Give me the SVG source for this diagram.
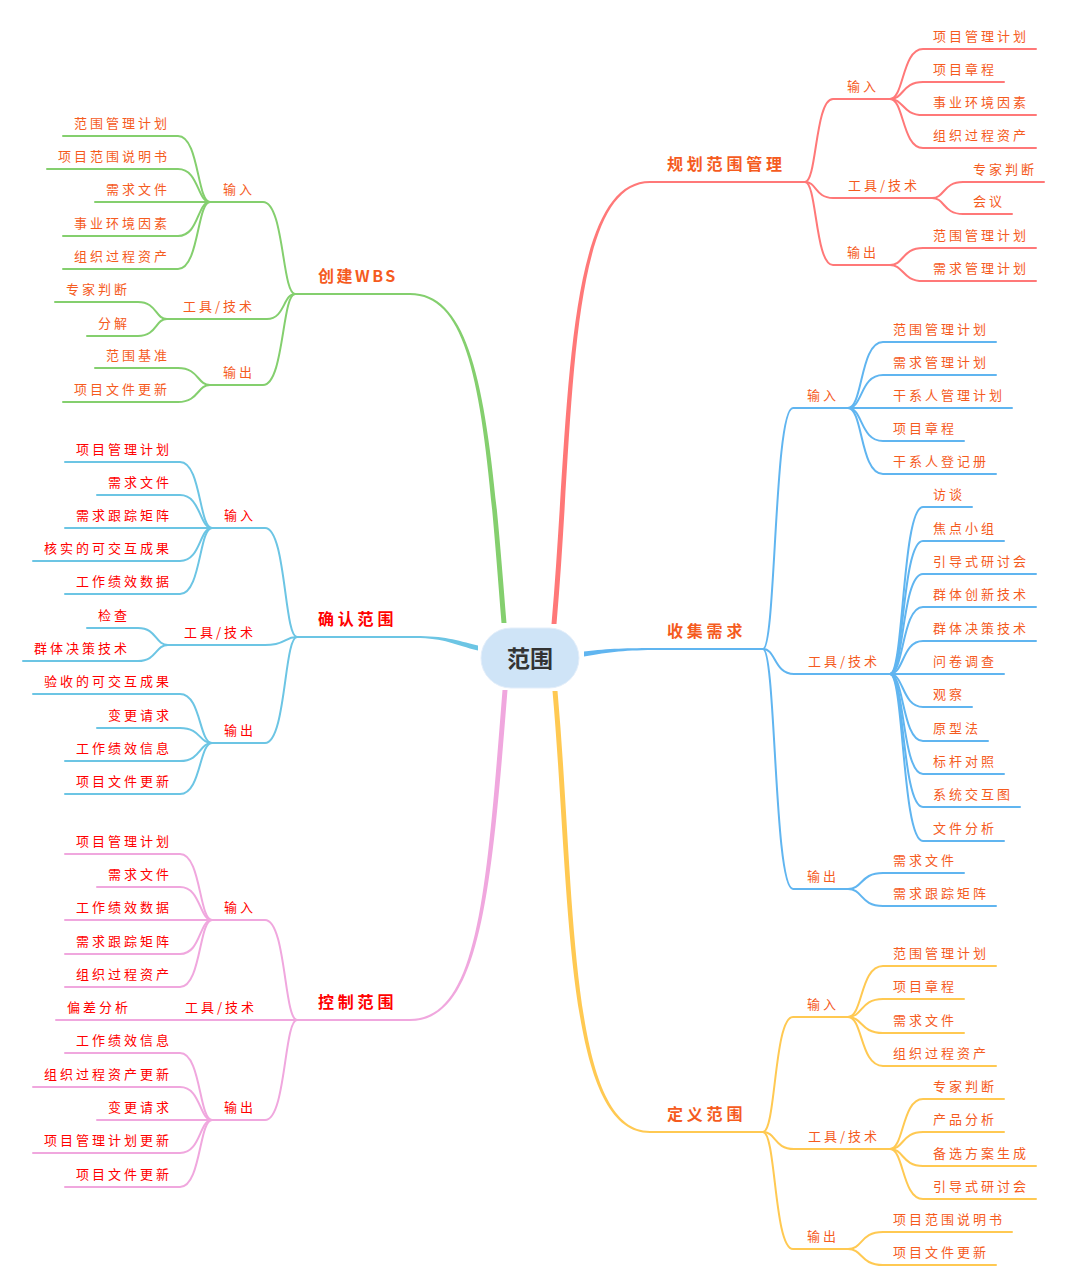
<svg xmlns="http://www.w3.org/2000/svg" width="1066" height="1288" viewBox="0 0 1066 1288">
<style>
.bg{fill:#ffffff}
.ln{fill:none;stroke-width:2;stroke-linecap:round}
.red{stroke:#FF7878}.grn{stroke:#84CF6E}.blu{stroke:#60B5F0}.cyn{stroke:#6CC5E4}.pnk{stroke:#F0A7DE}.yel{stroke:#FFC952}
.fred{fill:#FF7878}.fgrn{fill:#84CF6E}.fblu{fill:#60B5F0}.fcyn{fill:#6CC5E4}.fpnk{fill:#F0A7DE}.fyel{fill:#FFC952}
text{font-family:"Noto Sans CJK SC","Noto Sans",sans-serif}
.t{font-size:13px;letter-spacing:3px}
.m{font-size:16px;font-weight:bold;letter-spacing:3.8px}
.o{fill:#F55B1E}
.r{fill:#FF0000}
.center-t{font-size:23px;font-weight:bold;fill:#333333}
</style>
<rect class="bg" x="0" y="0" width="1066" height="1288"/>
<g id="connectors">
  <g id="c-plan">
    <path class="fred" d="M551.5 624 C569.5 420 563 181 650 181 L650 183 C566.5 183 574.5 420 556.5 624 Z"/>
    <path class="ln red" d="M650 182 L805 182"/>
    <path class="ln red" d="M805 182 C817 182 815 99 833 99 L890 99"/>
    <path class="ln red" d="M805 182 C817 182 815 198 833 198 L932 198"/>
    <path class="ln red" d="M805 182 C817 182 815 265 833 265 L890 265"/>
    <path class="ln red" d="M890 99 C904 99 902 49 923 49 L1036 49"/>
    <path class="ln red" d="M890 99 C904 99 902 82 923 82 L1004 82"/>
    <path class="ln red" d="M890 99 C904 99 902 115 923 115 L1036 115"/>
    <path class="ln red" d="M890 99 C904 99 902 148 923 148 L1036 148"/>
    <path class="ln red" d="M932 198 C945 198 943 182 963 182 L1044 182"/>
    <path class="ln red" d="M932 198 C945 198 943 214 963 214 L1012 214"/>
    <path class="ln red" d="M890 265 C904 265 902 248 923 248 L1036 248"/>
    <path class="ln red" d="M890 265 C904 265 902 281 923 281 L1036 281"/>
  </g>
  <g id="c-collect">
    <path class="fblu" d="M584 651.5 C610 648.5 625 648 660 648 L660 650 C625 650 610 652 584 656.5 Z"/>
    <path class="ln blu" d="M660 649 L763 649"/>
    <path class="ln blu" d="M763 649 C776 649 774 408 793 408 L848 408"/>
    <path class="ln blu" d="M763 649 C776 649 774 674 794 674 L890 674"/>
    <path class="ln blu" d="M763 649 C776 649 774 889 793 889 L848 889"/>
    <path class="ln blu" d="M848 408 C863 408 860 342 883 342 L996 342"/>
    <path class="ln blu" d="M848 408 C863 408 860 375 883 375 L996 375"/>
    <path class="ln blu" d="M848 408 L1012 408"/>
    <path class="ln blu" d="M848 408 C863 408 860 441 883 441 L964 441"/>
    <path class="ln blu" d="M848 408 C863 408 860 474 883 474 L996 474"/>
    <path class="ln blu" d="M890 674 C904 674 902 507 923 507 L972 507"/>
    <path class="ln blu" d="M890 674 C904 674 902 541 923 541 L1004 541"/>
    <path class="ln blu" d="M890 674 C904 674 902 574 923 574 L1036 574"/>
    <path class="ln blu" d="M890 674 C904 674 902 607 923 607 L1036 607"/>
    <path class="ln blu" d="M890 674 C904 674 902 641 923 641 L1036 641"/>
    <path class="ln blu" d="M890 674 L1004 674"/>
    <path class="ln blu" d="M890 674 C904 674 902 707 923 707 L972 707"/>
    <path class="ln blu" d="M890 674 C904 674 902 741 923 741 L988 741"/>
    <path class="ln blu" d="M890 674 C904 674 902 774 923 774 L1004 774"/>
    <path class="ln blu" d="M890 674 C904 674 902 807 923 807 L1020 807"/>
    <path class="ln blu" d="M890 674 C904 674 902 841 923 841 L1004 841"/>
    <path class="ln blu" d="M848 889 C863 889 860 873 883 873 L964 873"/>
    <path class="ln blu" d="M848 889 C863 889 860 906 883 906 L996 906"/>
  </g>
  <g id="c-define">
    <path class="fyel" d="M552.5 691 C570.5 895 564 1133 650 1133 L650 1131 C568 1131 575.5 895 557.5 691 Z"/>
    <path class="ln yel" d="M650 1132 L763 1132"/>
    <path class="ln yel" d="M763 1132 C776 1132 774 1017 793 1017 L848 1017"/>
    <path class="ln yel" d="M763 1132 C776 1132 774 1149 794 1149 L890 1149"/>
    <path class="ln yel" d="M763 1132 C776 1132 774 1249 793 1249 L848 1249"/>
    <path class="ln yel" d="M848 1017 C863 1017 860 966 883 966 L996 966"/>
    <path class="ln yel" d="M848 1017 C863 1017 860 999 883 999 L964 999"/>
    <path class="ln yel" d="M848 1017 C863 1017 860 1033 883 1033 L964 1033"/>
    <path class="ln yel" d="M848 1017 C863 1017 860 1066 883 1066 L996 1066"/>
    <path class="ln yel" d="M890 1149 C904 1149 902 1099 923 1099 L1004 1099"/>
    <path class="ln yel" d="M890 1149 C904 1149 902 1132 923 1132 L1004 1132"/>
    <path class="ln yel" d="M890 1149 C904 1149 902 1166 923 1166 L1036 1166"/>
    <path class="ln yel" d="M890 1149 C904 1149 902 1199 923 1199 L1036 1199"/>
    <path class="ln yel" d="M848 1249 C863 1249 860 1232 883 1232 L1012 1232"/>
    <path class="ln yel" d="M848 1249 C863 1249 860 1265 883 1265 L996 1265"/>
  </g>
  <g id="c-wbs">
    <path class="fgrn" d="M506.5 623 C490.5 420 479 293 410 293 L410 295 C477 295 485.5 420 501.5 623 Z"/>
    <path class="ln grn" d="M410 294 L295 294"/>
    <path class="ln grn" d="M295 294 C282 294 284 202 263 202 L210 202"/>
    <path class="ln grn" d="M295 294 C283 294 285 319 267 319 L167 319"/>
    <path class="ln grn" d="M295 294 C282 294 284 385 263 385 L210 385"/>
    <path class="ln grn" d="M210 202 C197 202 199 136 178 136 L63 136"/>
    <path class="ln grn" d="M210 202 C197 202 199 169 178 169 L47 169"/>
    <path class="ln grn" d="M210 202 L95 202"/>
    <path class="ln grn" d="M210 202 C197 202 199 236 178 236 L63 236"/>
    <path class="ln grn" d="M210 202 C197 202 199 269 178 269 L63 269"/>
    <path class="ln grn" d="M167 319 C155 319 157 302 138 302 L55 302"/>
    <path class="ln grn" d="M167 319 C155 319 157 336 138 336 L87 336"/>
    <path class="ln grn" d="M210 385 C197 385 199 368 178 368 L95 368"/>
    <path class="ln grn" d="M210 385 C197 385 199 402 178 402 L63 402"/>
  </g>
  <g id="c-verify">
    <path class="fcyn" d="M478 645.5 C455 640 445 636 415 636 L415 638 C445 638 455 645 478 650.5 Z"/>
    <path class="ln cyn" d="M415 637 L297 637"/>
    <path class="ln cyn" d="M297 637 C284 637 286 528 265 528 L212 528"/>
    <path class="ln cyn" d="M297 637 C284 637 286 645 265 645 L168 645"/>
    <path class="ln cyn" d="M297 637 C284 637 286 743 265 743 L212 743"/>
    <path class="ln cyn" d="M212 528 C199 528 201 462 180 462 L65 462"/>
    <path class="ln cyn" d="M212 528 C199 528 201 495 180 495 L97 495"/>
    <path class="ln cyn" d="M212 528 L65 528"/>
    <path class="ln cyn" d="M212 528 C199 528 201 561 180 561 L33 561"/>
    <path class="ln cyn" d="M212 528 C199 528 201 594 180 594 L65 594"/>
    <path class="ln cyn" d="M168 645 C155 645 157 628 138 628 L87 628"/>
    <path class="ln cyn" d="M168 645 C155 645 157 661 138 661 L23 661"/>
    <path class="ln cyn" d="M212 743 C199 743 201 694 180 694 L33 694"/>
    <path class="ln cyn" d="M212 743 C199 743 201 728 180 728 L97 728"/>
    <path class="ln cyn" d="M212 743 C199 743 201 761 180 761 L65 761"/>
    <path class="ln cyn" d="M212 743 C199 743 201 794 180 794 L65 794"/>
  </g>
  <g id="c-control">
    <path class="fpnk" d="M507.5 690 C491.5 893 480 1021 410 1021 L410 1019 C478 1019 486.5 893 502.5 690 Z"/>
    <path class="ln pnk" d="M410 1020 L297 1020"/>
    <path class="ln pnk" d="M297 1020 C284 1020 286 920 265 920 L212 920"/>
    <path class="ln pnk" d="M297 1020 L56 1020"/>
    <path class="ln pnk" d="M297 1020 C284 1020 286 1120 265 1120 L212 1120"/>
    <path class="ln pnk" d="M212 920 C199 920 201 854 180 854 L65 854"/>
    <path class="ln pnk" d="M212 920 C199 920 201 887 180 887 L97 887"/>
    <path class="ln pnk" d="M212 920 L65 920"/>
    <path class="ln pnk" d="M212 920 C199 920 201 954 180 954 L65 954"/>
    <path class="ln pnk" d="M212 920 C199 920 201 987 180 987 L65 987"/>
    <path class="ln pnk" d="M212 1120 C199 1120 201 1053 180 1053 L65 1053"/>
    <path class="ln pnk" d="M212 1120 C199 1120 201 1087 180 1087 L33 1087"/>
    <path class="ln pnk" d="M212 1120 L97 1120"/>
    <path class="ln pnk" d="M212 1120 C199 1120 201 1153 180 1153 L33 1153"/>
    <path class="ln pnk" d="M212 1120 C199 1120 201 1187 180 1187 L65 1187"/>
  </g>
</g>
<g id="n-root">
  <rect x="481" y="628" width="98" height="60" rx="30" fill="#CFE4F7" stroke="#E3EEFA" stroke-width="1"/>
  <text class="center-t" x="530" y="667" text-anchor="middle">范围</text>
</g>
<g id="n-plan">
  <text class="m o" x="667" y="170">规划范围管理</text>
  <g id="n-plan-in"><text class="t o" x="847" y="91">输入</text>
    <text class="t o" x="933" y="41">项目管理计划</text>
    <text class="t o" x="933" y="74">项目章程</text>
    <text class="t o" x="933" y="107">事业环境因素</text>
    <text class="t o" x="933" y="140">组织过程资产</text>
  </g>
  <g id="n-plan-tool"><text class="t o" x="848" y="190">工具/技术</text>
    <text class="t o" x="973" y="174">专家判断</text>
    <text class="t o" x="973" y="206">会议</text>
  </g>
  <g id="n-plan-out"><text class="t o" x="847" y="257">输出</text>
    <text class="t o" x="933" y="240">范围管理计划</text>
    <text class="t o" x="933" y="273">需求管理计划</text>
  </g>
</g>
<g id="n-collect">
  <text class="m o" x="667" y="637">收集需求</text>
  <g id="n-collect-in"><text class="t o" x="807" y="400">输入</text>
    <text class="t o" x="893" y="334">范围管理计划</text>
    <text class="t o" x="893" y="367">需求管理计划</text>
    <text class="t o" x="893" y="400">干系人管理计划</text>
    <text class="t o" x="893" y="433">项目章程</text>
    <text class="t o" x="893" y="466">干系人登记册</text>
  </g>
  <g id="n-collect-tool"><text class="t o" x="808" y="666">工具/技术</text>
    <text class="t o" x="933" y="499">访谈</text>
    <text class="t o" x="933" y="533">焦点小组</text>
    <text class="t o" x="933" y="566">引导式研讨会</text>
    <text class="t o" x="933" y="599">群体创新技术</text>
    <text class="t o" x="933" y="633">群体决策技术</text>
    <text class="t o" x="933" y="666">问卷调查</text>
    <text class="t o" x="933" y="699">观察</text>
    <text class="t o" x="933" y="733">原型法</text>
    <text class="t o" x="933" y="766">标杆对照</text>
    <text class="t o" x="933" y="799">系统交互图</text>
    <text class="t o" x="933" y="833">文件分析</text>
  </g>
  <g id="n-collect-out"><text class="t o" x="807" y="881">输出</text>
    <text class="t o" x="893" y="865">需求文件</text>
    <text class="t o" x="893" y="898">需求跟踪矩阵</text>
  </g>
</g>
<g id="n-define">
  <text class="m o" x="667" y="1120">定义范围</text>
  <g id="n-define-in"><text class="t o" x="807" y="1009">输入</text>
    <text class="t o" x="893" y="958">范围管理计划</text>
    <text class="t o" x="893" y="991">项目章程</text>
    <text class="t o" x="893" y="1025">需求文件</text>
    <text class="t o" x="893" y="1058">组织过程资产</text>
  </g>
  <g id="n-define-tool"><text class="t o" x="808" y="1141">工具/技术</text>
    <text class="t o" x="933" y="1091">专家判断</text>
    <text class="t o" x="933" y="1124">产品分析</text>
    <text class="t o" x="933" y="1158">备选方案生成</text>
    <text class="t o" x="933" y="1191">引导式研讨会</text>
  </g>
  <g id="n-define-out"><text class="t o" x="807" y="1241">输出</text>
    <text class="t o" x="893" y="1224">项目范围说明书</text>
    <text class="t o" x="893" y="1257">项目文件更新</text>
  </g>
</g>
<g id="n-wbs">
  <text class="m o" x="318" y="282" style="letter-spacing:2.5px">创建WBS</text>
  <g id="n-wbs-in"><text class="t o" x="223" y="194">输入</text>
    <text class="t o" x="74" y="128">范围管理计划</text>
    <text class="t o" x="58" y="161">项目范围说明书</text>
    <text class="t o" x="106" y="194">需求文件</text>
    <text class="t o" x="74" y="228">事业环境因素</text>
    <text class="t o" x="74" y="261">组织过程资产</text>
  </g>
  <g id="n-wbs-tool"><text class="t o" x="183" y="311">工具/技术</text>
    <text class="t o" x="66" y="294">专家判断</text>
    <text class="t o" x="98" y="328">分解</text>
  </g>
  <g id="n-wbs-out"><text class="t o" x="223" y="377">输出</text>
    <text class="t o" x="106" y="360">范围基准</text>
    <text class="t o" x="74" y="394">项目文件更新</text>
  </g>
</g>
<g id="n-verify">
  <text class="m r" x="318" y="625">确认范围</text>
  <g id="n-verify-in"><text class="t r" x="224" y="520">输入</text>
    <text class="t r" x="76" y="454">项目管理计划</text>
    <text class="t r" x="108" y="487">需求文件</text>
    <text class="t r" x="76" y="520">需求跟踪矩阵</text>
    <text class="t r" x="44" y="553">核实的可交互成果</text>
    <text class="t r" x="76" y="586">工作绩效数据</text>
  </g>
  <g id="n-verify-tool"><text class="t r" x="184" y="637">工具/技术</text>
    <text class="t r" x="98" y="620">检查</text>
    <text class="t r" x="34" y="653">群体决策技术</text>
  </g>
  <g id="n-verify-out"><text class="t r" x="224" y="735">输出</text>
    <text class="t r" x="44" y="686">验收的可交互成果</text>
    <text class="t r" x="108" y="720">变更请求</text>
    <text class="t r" x="76" y="753">工作绩效信息</text>
    <text class="t r" x="76" y="786">项目文件更新</text>
  </g>
</g>
<g id="n-control">
  <text class="m r" x="318" y="1008">控制范围</text>
  <g id="n-control-in"><text class="t r" x="224" y="912">输入</text>
    <text class="t r" x="76" y="846">项目管理计划</text>
    <text class="t r" x="108" y="879">需求文件</text>
    <text class="t r" x="76" y="912">工作绩效数据</text>
    <text class="t r" x="76" y="946">需求跟踪矩阵</text>
    <text class="t r" x="76" y="979">组织过程资产</text>
  </g>
  <g id="n-control-tool"><text class="t r" x="185" y="1012">工具/技术</text>
    <text class="t r" x="67" y="1012">偏差分析</text>
  </g>
  <g id="n-control-out"><text class="t r" x="224" y="1112">输出</text>
    <text class="t r" x="76" y="1045">工作绩效信息</text>
    <text class="t r" x="44" y="1079">组织过程资产更新</text>
    <text class="t r" x="108" y="1112">变更请求</text>
    <text class="t r" x="44" y="1145">项目管理计划更新</text>
    <text class="t r" x="76" y="1179">项目文件更新</text>
  </g>
</g>
</svg>
